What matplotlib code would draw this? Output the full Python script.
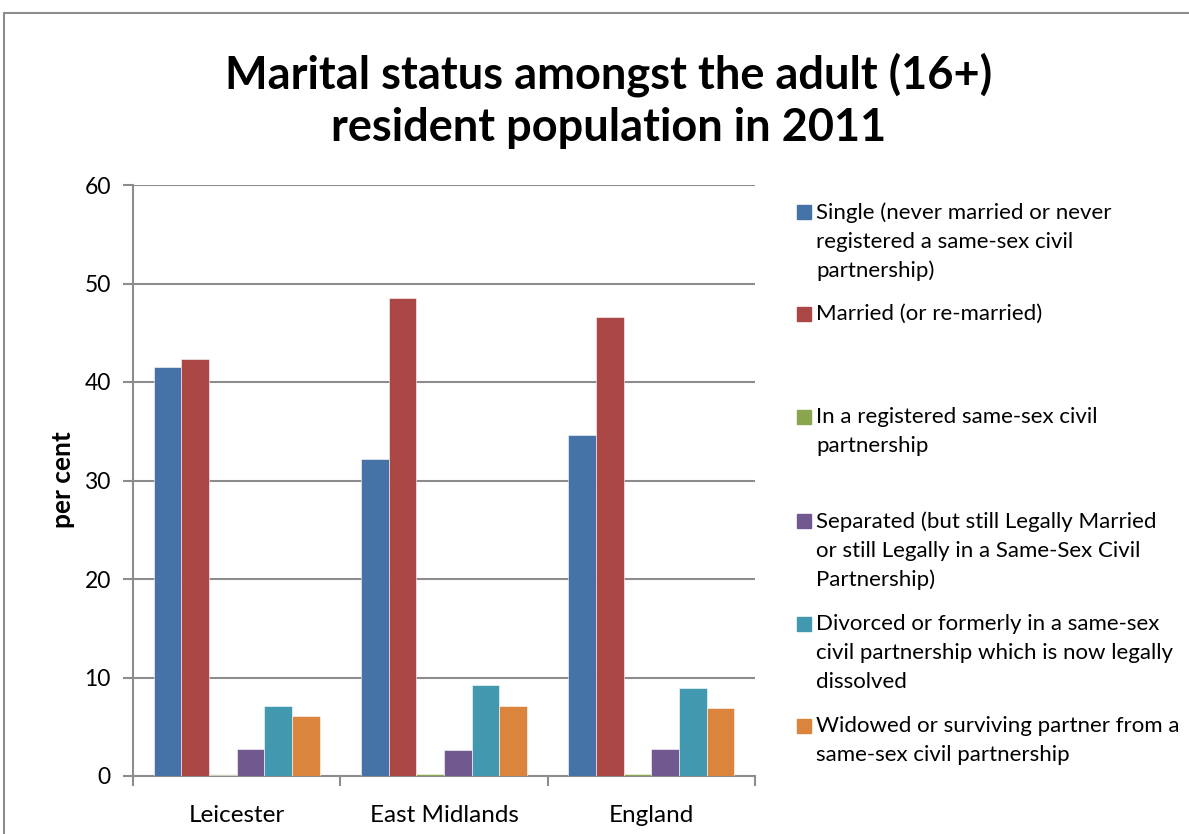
import numpy as np
import matplotlib.pyplot as plt
from matplotlib.patches import Rectangle

# ----------------------------
# Data (per cent of adult 16+ population, 2011)
# ----------------------------
AREAS = ["Leicester", "East Midlands", "England"]
SINGLE = [41.5, 32.2, 34.6]
MARRIED = [42.3, 48.5, 46.6]
CIVIL_PARTNERSHIP = [0.1, 0.2, 0.2]
SEPARATED = [2.7, 2.6, 2.7]
DIVORCED = [7.1, 9.2, 8.9]
WIDOWED = [6.1, 7.1, 6.9]

LABELS = [
    "Single (never married or never\nregistered a same-sex civil\npartnership)",
    "Married (or re-married)",
    "In a registered same-sex civil\npartnership",
    "Separated (but still Legally Married\nor still Legally in a Same-Sex Civil\nPartnership)",
    "Divorced or formerly in a same-sex\ncivil partnership which is now legally\ndissolved",
    "Widowed or surviving partner from a\nsame-sex civil partnership",
]
COLORS = ["#4572A7", "#AA4643", "#89A54E", "#71588F", "#4198AF", "#DB843D"]

FONT = ["Lato", "DejaVu Sans"]
GRID = "#8c8c8c"

W, H = 1189, 834
fig = plt.figure(figsize=(W / 100, H / 100), dpi=100)
plt.rcParams["font.family"] = FONT

# chart frame (only its top and left edges fall inside the image)
fig.patches.append(Rectangle((4 / W, -0.2), 1.2, 1.2 - 13 / H, transform=fig.transFigure,
                             fill=False, edgecolor=GRID, linewidth=1.5))

ax = fig.add_axes([133 / W, 1 - 776 / H, (755 - 133) / W, (776 - 185) / H])

series = [SINGLE, MARRIED, CIVIL_PARTNERSHIP, SEPARATED, DIVORCED, WIDOWED]
n = len(series)
bar_w = 1 / (n + 1.5)
x = np.arange(len(AREAS)) + 0.5
for i, (vals, col) in enumerate(zip(series, COLORS)):
    offs = (i - (n - 1) / 2) * bar_w
    ax.bar(x + offs, vals, width=bar_w, color=col, edgecolor="white",
           linewidth=0.4, zorder=3)

ax.set_xlim(0, len(AREAS))
ax.set_ylim(0, 60)
ax.set_yticks(range(0, 61, 10))
ax.yaxis.grid(True, color=GRID, linewidth=1.5, zorder=0)
ax.set_axisbelow(True)

# category ticks sit on the group boundaries, labels in the middle
ax.set_xticks(range(len(AREAS) + 1))
ax.set_xticklabels([])
ax.set_xticks(x, minor=True)
ax.set_xticklabels(AREAS, minor=True, fontsize=17.5)
ax.tick_params(axis="x", which="minor", length=0, pad=21)
ax.tick_params(axis="x", which="major", length=7, width=1.5, color=GRID)
ax.tick_params(axis="y", length=7, width=1.5, color=GRID, labelsize=16.5, pad=9)

for side in ["top", "right"]:
    ax.spines[side].set_visible(False)
for side in ["left", "bottom"]:
    ax.spines[side].set_color(GRID)
    ax.spines[side].set_linewidth(1.5)

# axis title placed at a fixed spot left of the tick labels
fig.text(63 / W, 1 - 480 / H, "per cent", rotation=90, ha="center", va="center",
         fontsize=19, fontweight="bold")

fig.text(609 / W, 1 - 101 / H,
         "Marital status amongst the adult (16+)\nresident population in 2011",
         ha="center", va="center", fontsize=32.5, fontweight="bold", linespacing=1.3)

# legend, drawn by hand to keep the uneven spacing between entries
legend_y = [212, 314, 417, 521, 624, 726]
for lab, col, yy in zip(LABELS, COLORS, legend_y):
    fig.patches.append(Rectangle((797 / W, 1 - (yy + 7) / H), 14 / W, 14 / H,
                                 transform=fig.transFigure, color=col))
    fig.text(816 / W, 1 - (yy - 10) / H, lab, ha="left", va="top",
             fontsize=16, linespacing=1.56)

fig.savefig("out.png", dpi=100)
